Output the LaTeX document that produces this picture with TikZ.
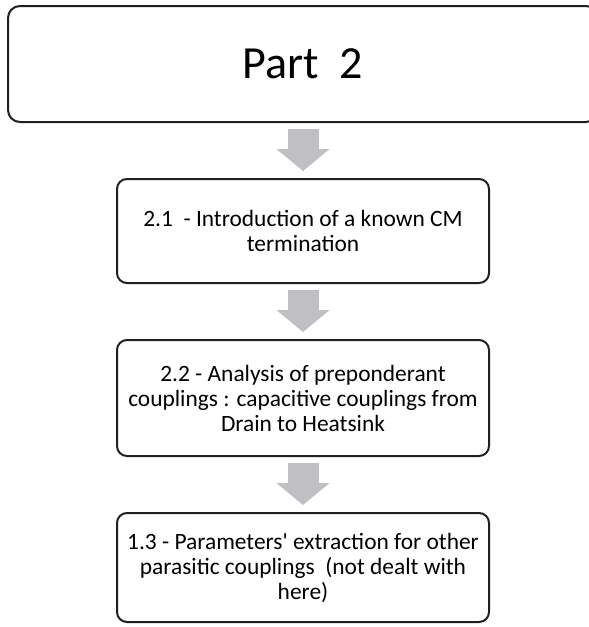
\documentclass[tikz,border=0pt]{standalone}
\usepackage{fontspec}
\setmainfont{Carlito}[Ligatures=TeXOff]
\usetikzlibrary{arrows.meta}
\definecolor{arrowgray}{RGB}{191,191,196}
\definecolor{boxline}{RGB}{35,31,32}
\begin{document}
\begin{tikzpicture}[x=0.5pt,y=-0.5pt,
  box/.style={draw=boxline,line width=1pt,rounded corners=5pt,align=center,
    inner sep=0pt,minimum width=186pt,font=\fontsize{11.7}{12.5}\selectfont},
  flow/.style={arrowgray,line width=15.5pt,-{Triangle[length=11pt,width=26pt]},
    shorten <=3pt,shorten >=3.5pt}]
  \useasboundingbox (0,0) rectangle (589,627);
  % title box runs off the right edge
  \node[box,minimum width=295pt,minimum height=58pt,rounded corners=6pt,
    font=\fontsize{23}{27}\selectfont] (part) at (303,64) {Part\ \ 2};
  \node[box,minimum height=52pt] (s21) at (303,231)
    {2.1\ \ - Introduction of a known CM\\termination};
  \node[box,minimum height=58pt] (s22) at (303,398)
    {2.2 - Analysis of preponderant\\couplings : capacitive couplings from\\Drain to Heatsink};
  \node[box,minimum height=54.5pt] (s13) at (303,567.5)
    {1.3 - Parameters' extraction for other\\parasitic couplings\ \ (not dealt with\\here)};
  \foreach \a/\b in {part/s21, s21/s22, s22/s13} {
    \draw[flow] (\a.south) -- (\b.north);
  }
\end{tikzpicture}
\end{document}
